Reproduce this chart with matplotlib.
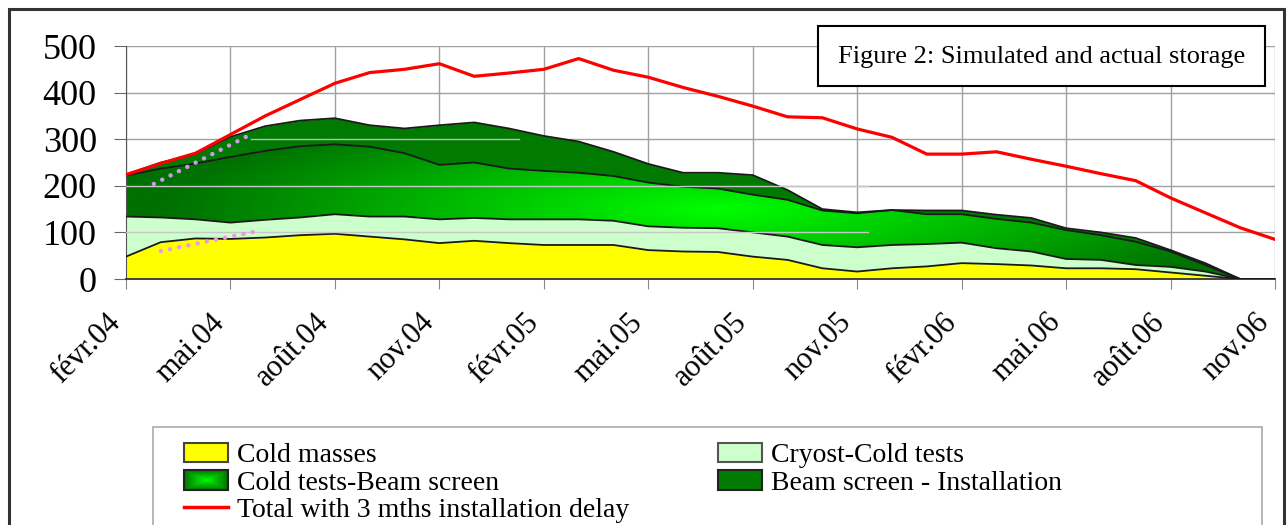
import numpy as np
import matplotlib
matplotlib.use('Agg')
import matplotlib.pyplot as plt
from matplotlib.patches import Rectangle, Polygon, Patch
from matplotlib.lines import Line2D
from matplotlib.legend_handler import HandlerBase
from matplotlib.transforms import ScaledTranslation

plt.rcParams['font.family'] = ['Liberation Serif', 'DejaVu Serif']

# months from févr.04 (0) to nov.06 (33)
months = np.arange(34)
tick_labels = ['févr.04', 'mai.04', 'août.04', 'nov.04', 'févr.05', 'mai.05',
               'août.05', 'nov.05', 'févr.06', 'mai.06', 'août.06', 'nov.06']

cold_masses = np.array([48, 79, 87, 86, 89, 94, 97, 91, 85, 77, 82, 77, 73, 73, 73, 62, 59,
                        58, 48, 41, 23, 16, 23, 27, 34, 32, 29, 23, 23, 21, 14, 7, 0, 0])
cryost_cold = np.array([86, 53, 41, 35, 38, 38, 42, 43, 49, 51, 49, 51, 55, 55, 52, 51, 51,
                        51, 52, 50, 50, 52, 50, 48, 44, 34, 30, 20, 18, 9, 12, 9, 0, 0])
cold_beam = np.array([88, 105, 120, 141, 148, 153, 150, 150, 136, 117, 119, 109, 104, 100, 96, 94, 88,
                      85, 81, 79, 74, 73, 75, 64, 61, 63, 62, 62, 53, 50, 33, 14, 0, 0])
beam_install = np.array([2, 13, 20, 43, 53, 55, 56, 46, 53, 85, 86, 86, 75, 67, 52, 40, 30,
                         34, 42, 21, 3, 2, 0, 8, 8, 9, 10, 4, 6, 8, 3, 4, 0, 0])
total_delay = np.array([224, 248, 270, 310, 350, 385, 420, 443, 450, 462, 435, 442, 450, 473, 448, 433, 411,
                        392, 371, 348, 346, 322, 304, 268, 268, 273, 257, 242, 226, 211, 174, 142, 110, 85])

# the two dotted marks (actual storage)
violet_x = [0.8, 3.5]
violet_y = [204, 307]
pink_x = [1.0, 3.65]
pink_y = [60, 101]

labels = ['Cold masses', 'Cryost-Cold tests', 'Cold tests-Beam screen',
          'Beam screen - Installation', 'Total with 3 mths installation delay']

c_yellow = '#ffff00'
c_light = '#ccffcc'
c_dark = '#007a00'
c_red = '#ff0000'

W, H = 1288, 525
fig = plt.figure(figsize=(12.88, 5.25), dpi=100)
ax = fig.add_axes([126 / W, 1 - 279 / H, (1275 - 126) / W, (279 - 46) / H])

top1 = cold_masses
top2 = top1 + cryost_cold
top3 = top2 + cold_beam
top4 = top3 + beam_install

ax.fill_between(months, 0, top1, color=c_yellow, lw=0, zorder=2)
ax.fill_between(months, top1, top2, color=c_light, lw=0, zorder=2)
ax.fill_between(months, top3, top4, color=c_dark, lw=0, zorder=2)

# radial green gradient for "Cold tests-Beam screen"
mm, vv = np.meshgrid(np.linspace(0, 33, 400), np.linspace(0, 500, 300))
d = np.sqrt(((mm - 17) / 15.5) ** 2 + ((vv - 150) / 220.0) ** 2)
g = np.clip(255 - 140 * d, 112, 255) / 255.0
rgb = np.dstack([np.zeros_like(g), g, np.zeros_like(g)])
verts = np.column_stack([np.r_[months, months[::-1]], np.r_[top3, top2[::-1]]])
clip = Polygon(verts, closed=True, facecolor='none', edgecolor='none', transform=ax.transData)
ax.add_patch(clip)
im = ax.imshow(rgb, extent=[0, 33, 0, 500], origin='lower', aspect='auto', zorder=2)
im.set_clip_path(clip)

for t in [top1, top2, top3, top4]:
    ax.plot(months, t, color='#1a1a1a', lw=1.3, zorder=3)

# faint grid remnants drawn over the areas
ax.plot([3.6, 11.3], [300, 300], color='#b8b8b8', lw=1, zorder=3.5)
ax.plot([0, 21.3], [200, 200], color='#c8c8c8', lw=1, zorder=3.5)
ax.plot([0, 21.3], [100, 100], color='#c8c8c8', lw=1, zorder=3.5)

ax.plot(months, total_delay, color=c_red, lw=2.3, zorder=4)

ax.plot(violet_x, violet_y, color='#cc99ee', lw=3.2, ls=(0, (0.01, 2.1)),
        dash_capstyle='round', zorder=5)
ax.plot(pink_x, pink_y, color='#ee99dd', lw=3.2, ls=(0, (0.01, 2.1)),
        dash_capstyle='round', zorder=5)

ax.set_xlim(0, 33)
ax.set_ylim(0, 500)
ax.set_xticks(months[::3])
ax.set_xticklabels([])
# month labels drawn by hand so they can sit a bit left of their ticks
lab_tr = ax.get_xaxis_transform() + ScaledTranslation(-10 / 100, -39 / 100, fig.dpi_scale_trans)
for m, lab in zip(months[::3], tick_labels):
    ax.text(m, 0, lab, transform=lab_tr, rotation=45, ha='right', va='center',
            rotation_mode='anchor', fontsize=22, clip_on=False)
ax.set_yticks(np.arange(0, 501, 100))
ax.tick_params(axis='y', labelsize=26, length=9, color='#666', pad=12)
ax.tick_params(axis='x', length=7, color='#888')
ax.grid(True, color='#a0a0a0', lw=1, zorder=0)
ax.set_axisbelow(True)
for s in ['top', 'right']:
    ax.spines[s].set_visible(False)
ax.spines['left'].set_color('#555')
ax.spines['bottom'].set_color('#333')
ax.spines['bottom'].set_linewidth(1.3)


class GradientHandler(HandlerBase):
    def create_artists(self, legend, orig_handle, xdescent, ydescent, width, height, fontsize, trans):
        arts = []
        n = 10
        for k in range(n):
            s = 1 - k / n
            gg = (255 - 135 * s) / 255.0
            w, h = width * s, height * s
            r = Rectangle((-xdescent + (width - w) / 2, -ydescent + (height - h) / 2), w, h,
                          facecolor=(0, gg, 0), edgecolor='none', transform=trans)
            arts.append(r)
        arts.append(Rectangle((-xdescent, -ydescent), width, height, facecolor='none',
                              edgecolor='#222', lw=1.5, transform=trans))
        return arts


h_yellow = Patch(facecolor=c_yellow, edgecolor='#444', lw=1.5)
h_light = Patch(facecolor=c_light, edgecolor='#555', lw=1.5)
h_grad = Patch(facecolor='#00cc00')
h_dark = Patch(facecolor=c_dark, edgecolor='#222', lw=1.5)
h_red = Line2D([], [], color=c_red, lw=2.5)

fig.legend([h_yellow, h_grad, h_red, h_light, h_dark],
           [labels[0], labels[2], labels[4], labels[1], labels[3]],
           handler_map={h_grad: GradientHandler()},
           loc='upper left', bbox_to_anchor=(170 / W, 1 - 429 / H), ncol=2,
           frameon=False, fontsize=20, labelspacing=0.07, handletextpad=0.3,
           columnspacing=3.2, borderpad=0, handlelength=1.6)

# legend frame, title box, outer frame
fig.add_artist(Rectangle((153 / W, -0.1), (1262 - 153) / W, 0.1 + (1 - 427 / H),
                         transform=fig.transFigure, facecolor='none', edgecolor='#aaaaaa', lw=1.2))
fig.add_artist(Rectangle((818 / W, 1 - 86 / H), (1265 - 818) / W, 60 / H,
                         transform=fig.transFigure, facecolor='white', edgecolor='black', lw=1.5, zorder=10))
fig.text(1042 / W, 1 - 57 / H, 'Figure 2: Simulated and actual storage', ha='center', va='center',
         fontsize=19, zorder=11)
fig.add_artist(Rectangle((9 / W, -0.1), (1284 - 9) / W, 0.1 + (1 - 9 / H),
                         transform=fig.transFigure, facecolor='none', edgecolor='#333333', lw=2.2))

fig.savefig('out.png', dpi=100)
